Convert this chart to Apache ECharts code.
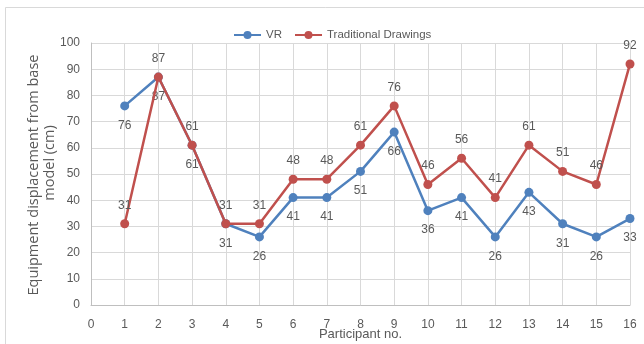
<!DOCTYPE html>
<html>
<head>
<meta charset="utf-8">
<script src="https://cdn.jsdelivr.net/npm/echarts@6/dist/echarts.min.js"></script>
<style>
  html, body { margin: 0; padding: 0; background: #ffffff; }
  #chart { width: 644px; height: 344px; }
</style>
</head>
<body>
<div id="chart"></div>
<script>
// Participants and measured equipment displacement (cm)
const participants = [1, 2, 3, 4, 5, 6, 7, 8, 9, 10, 11, 12, 13, 14, 15, 16];
const vrValues = [76, 87, 61, 31, 26, 41, 41, 51, 66, 36, 41, 26, 43, 31, 26, 33];
const drawingValues = [31, 87, 61, 31, 31, 48, 48, 61, 76, 46, 56, 41, 61, 51, 46, 92];
const seriesNames = ['VR', 'Traditional Drawings'];
const yAxisTitleLines = ['Equipment displacement from base', 'model (cm)'];
const xAxisTitle = 'Participant no.';

const labelFont = '"Liberation Sans Narrow", "Liberation Sans", sans-serif';
const titleFont = '"Open Sans", "DejaVu Sans", sans-serif';
const textColor = '#595959';

function pairs(vals) {
  return participants.map((p, i) => [p, vals[i]]);
}

const chart = echarts.init(document.getElementById('chart'), null, { renderer: 'canvas' });

chart.setOption({
  animation: false,
  backgroundColor: '#ffffff',
  graphic: [
    {
      type: 'rect',
      shape: { x: 5.5, y: 7.5, width: 700, height: 400 },
      style: { fill: 'none', stroke: '#d9d9d9', lineWidth: 1 },
      silent: true
    },
    // two-line vertical axis title
    {
      type: 'text',
      x: 34, y: 175,
      rotation: Math.PI / 2,
      style: {
        text: yAxisTitleLines[0],
        align: 'center', verticalAlign: 'middle',
        font: '14.5px ' + titleFont, fill: textColor
      },
      silent: true
    },
    {
      type: 'text',
      x: 50, y: 163,
      rotation: Math.PI / 2,
      style: {
        text: yAxisTitleLines[1],
        align: 'center', verticalAlign: 'middle',
        font: '14.5px ' + titleFont, fill: textColor
      },
      silent: true
    }
  ],
  legend: {
    left: 228,
    top: 24,
    itemWidth: 27,
    itemHeight: 10,
    itemGap: 12,
    textStyle: { fontFamily: labelFont, fontSize: 11.5, color: textColor },
    data: seriesNames
  },
  grid: { left: 91, right: 14, top: 43, bottom: 39, outerBoundsMode: 'none', containLabel: false },
  xAxis: {
    type: 'value',
    min: 0,
    max: 16,
    interval: 1,
    name: xAxisTitle,
    nameLocation: 'middle',
    nameGap: 23,
    nameMoveOverlap: false,
    nameTextStyle: { fontFamily: labelFont, fontSize: 13, color: textColor },
    axisLine: { show: true, lineStyle: { color: '#bfbfbf', width: 1 } },
    axisTick: { show: false },
    axisLabel: { fontFamily: labelFont, fontSize: 12, color: textColor, margin: 14 },
    splitLine: { show: true, lineStyle: { color: '#d9d9d9', width: 1 } }
  },
  yAxis: {
    type: 'value',
    min: 0,
    max: 100,
    interval: 10,
    axisLine: { show: true, lineStyle: { color: '#bfbfbf', width: 1 } },
    axisTick: { show: false },
    axisLabel: { fontFamily: labelFont, fontSize: 12, color: textColor, margin: 11 },
    splitLine: { show: true, lineStyle: { color: '#d9d9d9', width: 1 } }
  },
  series: [
    {
      name: seriesNames[0],
      type: 'line',
      data: pairs(vrValues),
      color: '#4f81bd',
      symbol: 'circle',
      symbolSize: 9,
      lineStyle: { width: 2.5 },
      label: {
        show: true,
        position: 'bottom',
        distance: 9,
        fontFamily: labelFont,
        fontSize: 12,
        color: textColor,
        formatter: p => p.value[1]
      },
      z: 3
    },
    {
      name: seriesNames[1],
      type: 'line',
      data: pairs(drawingValues),
      color: '#c0504d',
      symbol: 'circle',
      symbolSize: 9,
      lineStyle: { width: 2.5 },
      label: {
        show: true,
        position: 'top',
        distance: 8,
        fontFamily: labelFont,
        fontSize: 12,
        color: textColor,
        formatter: p => p.value[1]
      },
      z: 4
    }
  ]
});
</script>
</body>
</html>
